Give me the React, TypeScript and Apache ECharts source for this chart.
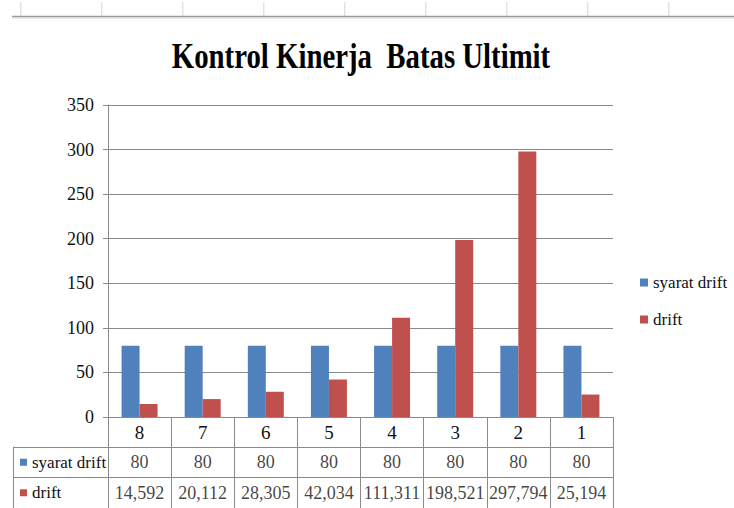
import React, { useEffect, useRef } from 'react';
import * as echarts from 'echarts';

// ---- data ----
const categories: string[] = ['8', '7', '6', '5', '4', '3', '2', '1'];
const seriesNames: string[] = ['syarat drift', 'drift'];
const syaratDrift: number[] = [80, 80, 80, 80, 80, 80, 80, 80];
const drift: number[] = [14.592, 20.112, 28.305, 42.034, 111.311, 198.521, 297.794, 25.194];
const yMin = 0;
const yMax = 350;
const yInterval = 50;
const titleText = 'Kontrol Kinerja  Batas Ultimit';

// ---- styles ----
const BLUE = '#4F81BD';
const RED = '#C0504D';
const GRIDC = '#8a8a8a';
const TXT = '#111111';
const SERIF = "'Liberation Serif', 'Times New Roman', serif";

const fmt = (v: number) =>
  Number.isInteger(v) ? String(v) : v.toFixed(3).replace('.', ',');

export default function App() {
  const ref = useRef<HTMLDivElement>(null);

  useEffect(() => {
    if (!ref.current) return;
    const chart = echarts.init(ref.current, undefined, { renderer: 'svg' });
    const rows = [syaratDrift, drift];
    const colors = [BLUE, RED];
    const tableData: any[] = [];
    rows.forEach((vals, r) => {
      vals.forEach((v, i) => tableData.push([i, r, fmt(v)]));
    });

    const topDeco: any[] = [];
    for (let k = 0; k < 9; k++) {
      topDeco.push({
        type: 'line',
        silent: true,
        shape: { x1: 20.7 + 81 * k, y1: 2, x2: 20.7 + 81 * k, y2: 16 },
        style: { stroke: '#e2e2e2', lineWidth: 1.5 },
      });
    }
    topDeco.push({
      type: 'line',
      silent: true,
      shape: { x1: 12, y1: 16.5, x2: 734, y2: 16.5 },
      style: { stroke: '#9a9a9a', lineWidth: 1.5 },
    });
    topDeco.push({
      type: 'line',
      silent: true,
      shape: { x1: 12, y1: 18, x2: 734, y2: 18 },
      style: { stroke: '#d4d4d4', lineWidth: 1 },
    });

    const option: any = {
      animation: false,
      backgroundColor: '#ffffff',
      textStyle: { fontFamily: SERIF },
      graphic: [
        ...topDeco,
        {
          type: 'text',
          x: 361,
          y: 56,
          scaleX: 0.8,
          silent: true,
          style: {
            x: 0,
            y: 0,
            text: titleText,
            fontFamily: SERIF,
            fontWeight: 'bold',
            fontSize: 36,
            fill: '#000',
            textAlign: 'center',
            textVerticalAlign: 'middle',
          },
        },
      ],
      legend: {
        orient: 'vertical',
        left: 640,
        top: 274,
        padding: 0,
        itemWidth: 8,
        itemHeight: 8,
        itemGap: 20,
        icon: 'rect',
        data: seriesNames,
        textStyle: { fontFamily: SERIF, fontSize: 17, color: TXT },
      },
      grid: [
        { left: 108, right: 121, top: 105, bottom: 91 },
        { left: 108, right: 121, top: 447, height: 62 },
      ],
      xAxis: [
        {
          type: 'category',
          gridIndex: 0,
          data: categories,
          axisLine: { show: true, lineStyle: { color: GRIDC } },
          axisTick: {
            show: true,
            length: 30,
            interval: 0,
            alignWithLabel: false,
            lineStyle: { color: GRIDC },
          },
          axisLabel: {
            interval: 0,
            margin: 6,
            fontSize: 19,
            fontFamily: SERIF,
            color: TXT,
          },
          splitLine: { show: false },
        },
        {
          type: 'category',
          gridIndex: 1,
          data: categories,
          axisLine: { show: false },
          axisTick: { show: false },
          axisLabel: { show: false },
          splitLine: { show: true, interval: 0, lineStyle: { color: GRIDC } },
        },
      ],
      yAxis: [
        {
          type: 'value',
          gridIndex: 0,
          min: yMin,
          max: yMax,
          interval: yInterval,
          axisLine: { show: true, lineStyle: { color: GRIDC } },
          axisTick: { show: true, length: 5, lineStyle: { color: GRIDC } },
          axisLabel: { margin: 14, fontSize: 18, fontFamily: SERIF, color: TXT },
          splitLine: { show: true, lineStyle: { color: GRIDC } },
        },
        {
          type: 'category',
          gridIndex: 1,
          data: seriesNames,
          inverse: true,
          axisLine: { show: true, lineStyle: { color: GRIDC } },
          axisTick: {
            show: true,
            length: 95,
            interval: 0,
            alignWithLabel: false,
            lineStyle: { color: GRIDC },
          },
          axisLabel: {
            interval: 0,
            align: 'left',
            margin: 88,
            formatter: (v: string) => `{s${seriesNames.indexOf(v)}|}{t|${v}}`,
            rich: {
              s0: { backgroundColor: colors[0], width: 7, height: 7 },
              s1: { backgroundColor: colors[1], width: 7, height: 7 },
              t: { fontSize: 17, fontFamily: SERIF, color: TXT, padding: [0, 0, 0, 5] },
            },
          },
          splitLine: { show: true, interval: 0, lineStyle: { color: GRIDC } },
        },
        {
          type: 'category',
          gridIndex: 1,
          data: seriesNames,
          inverse: true,
          position: 'left',
          offset: 95,
          axisLine: { show: true, lineStyle: { color: GRIDC } },
          axisTick: { show: false },
          axisLabel: { show: false },
          splitLine: { show: false },
        },
      ],
      series: [
        {
          name: seriesNames[0],
          type: 'bar',
          xAxisIndex: 0,
          yAxisIndex: 0,
          data: syaratDrift,
          itemStyle: { color: BLUE },
          barGap: '0%',
          barCategoryGap: '43%',
        },
        {
          name: seriesNames[1],
          type: 'bar',
          xAxisIndex: 0,
          yAxisIndex: 0,
          data: drift,
          itemStyle: { color: RED },
          barGap: '0%',
          barCategoryGap: '43%',
        },
        {
          name: 'table',
          type: 'scatter',
          xAxisIndex: 1,
          yAxisIndex: 1,
          silent: true,
          symbolSize: 1,
          itemStyle: { color: 'rgba(0,0,0,0)' },
          data: tableData,
          label: {
            show: true,
            position: 'inside',
            formatter: (p: any) => p.value[2],
            fontSize: 18,
            fontFamily: SERIF,
            color: TXT,
          },
          labelLayout: { hideOverlap: false },
        },
      ],
    };
    chart.setOption(option);
    return () => chart.dispose();
  }, []);

  return (
    <div
      ref={ref}
      style={{ position: 'fixed', left: 0, top: 0, width: 734, height: 508, background: '#fff' }}
    />
  );
}
